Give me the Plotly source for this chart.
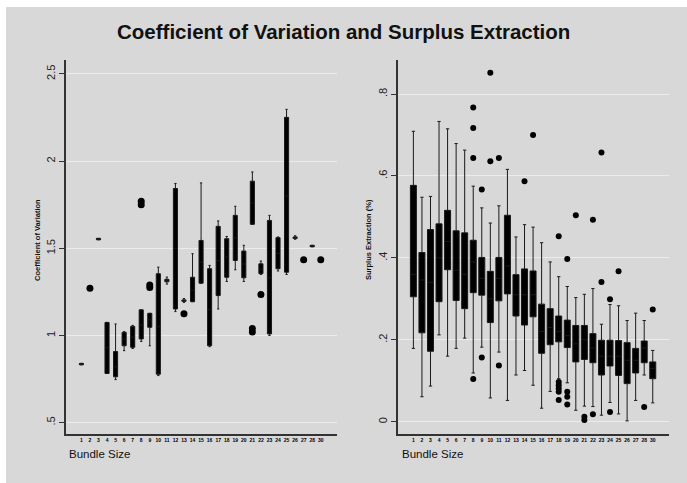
import plotly.graph_objects as go

# ---------------- data ----------------
bundle_labels = [str(k) for k in range(1, 29)] + ["30"]

# Left panel: Coefficient of Variation (None = no box, only points)
cv_low = [0.832, None, 1.549, 0.782, 0.747, 0.913, 0.925, 0.966, 0.941, 0.770,
          1.295, 1.137, 1.190, 1.194, 1.300, 0.936, 1.152, 1.310, 1.377, 1.310,
          1.638, 1.350, 1.000, 1.370, 1.350, 1.552, None, 1.509, None]
cv_q1 = [0.832, None, 1.549, 0.782, 0.763, 0.941, 0.932, 0.980, 1.047, 0.778,
         1.308, 1.152, 1.196, 1.194, 1.300, 0.941, 1.229, 1.334, 1.430, 1.331,
         1.638, 1.355, 1.009, 1.383, 1.363, 1.557, None, 1.509, None]
cv_med = [0.836, None, 1.553, 0.930, 0.820, 0.980, 0.990, 1.060, 1.090, 1.050,
          1.315, 1.500, 1.200, 1.260, 1.420, 1.150, 1.430, 1.450, 1.560, 1.410,
          1.760, 1.380, 1.330, 1.470, 1.800, 1.561, None, 1.513, None]
cv_q3 = [0.840, None, 1.557, 1.075, 0.908, 1.018, 1.052, 1.147, 1.127, 1.354,
         1.322, 1.843, 1.204, 1.334, 1.545, 1.383, 1.626, 1.555, 1.689, 1.484,
         1.885, 1.411, 1.660, 1.561, 2.251, 1.565, None, 1.517, None]
cv_high = [0.840, None, 1.557, 1.075, 1.066, 1.022, 1.058, 1.147, 1.127, 1.392,
           1.335, 1.872, 1.212, 1.469, 1.875, 1.402, 1.657, 1.568, 1.741, 1.517,
           1.938, 1.427, 1.689, 1.565, 2.297, 1.572, None, 1.517, None]
cv_out_group = [1, 7, 7, 8, 8, 12, 20, 20, 21, 26, 28]
cv_out_value = [1.271, 1.750, 1.770, 1.275, 1.290, 1.124, 1.020, 1.040, 1.235, 1.434, 1.434]

# Right panel: Surplus Extraction (%)
se_low = [0.179, 0.061, 0.087, 0.212, 0.160, 0.179, 0.204, 0.119, 0.182, 0.058,
          0.170, 0.052, 0.114, 0.125, 0.089, 0.033, 0.074, 0.105, 0.095, 0.028,
          0.038, 0.037, 0.016, 0.047, 0.019, 0.002, 0.052, 0.114, 0.046]
se_q1 = [0.305, 0.217, 0.172, 0.293, 0.371, 0.296, 0.276, 0.315, 0.309, 0.242,
         0.295, 0.312, 0.258, 0.236, 0.256, 0.167, 0.188, 0.195, 0.181, 0.146,
         0.152, 0.144, 0.114, 0.136, 0.113, 0.093, 0.119, 0.144, 0.105]
se_med = [0.360, 0.346, 0.340, 0.400, 0.440, 0.370, 0.360, 0.390, 0.350, 0.300,
          0.350, 0.380, 0.310, 0.310, 0.310, 0.220, 0.230, 0.220, 0.210, 0.190,
          0.200, 0.180, 0.160, 0.160, 0.160, 0.150, 0.150, 0.180, 0.130]
se_q3 = [0.577, 0.413, 0.469, 0.483, 0.516, 0.466, 0.461, 0.443, 0.401, 0.367,
         0.401, 0.504, 0.359, 0.373, 0.368, 0.287, 0.276, 0.258, 0.248, 0.235,
         0.235, 0.215, 0.199, 0.199, 0.198, 0.193, 0.179, 0.197, 0.146]
se_high = [0.709, 0.548, 0.550, 0.733, 0.715, 0.679, 0.663, 0.575, 0.522, 0.485,
           0.527, 0.616, 0.451, 0.481, 0.475, 0.437, 0.390, 0.354, 0.330, 0.303,
           0.311, 0.325, 0.238, 0.286, 0.283, 0.247, 0.265, 0.247, 0.174]
se_out_group = [7, 7, 7, 7, 8, 8, 9, 9, 10, 10, 13, 14,
                17, 17, 17, 17, 17, 17, 18, 18, 18, 18, 19, 20, 20,
                21, 21, 22, 22, 23, 23, 24, 27, 28]
se_out_value = [0.767, 0.717, 0.644, 0.104, 0.567, 0.157, 0.852, 0.636, 0.644, 0.137, 0.587, 0.700,
                0.453, 0.097, 0.089, 0.081, 0.073, 0.053, 0.397, 0.073, 0.061, 0.042, 0.504, 0.012, 0.004,
                0.493, 0.018, 0.657, 0.341, 0.299, 0.024, 0.367, 0.036, 0.274]

cv_ticks = [0.5, 1, 1.5, 2, 2.5]
cv_ticktext = [".5", "1", "1.5", "2", "2.5"]
se_ticks = [0, 0.2, 0.4, 0.6, 0.8]
se_ticktext = ["0", ".2", ".4", ".6", ".8"]

# ---------------- figure ----------------
W, H = 687, 483
BG = "#d8d8d8"
positions = list(range(len(bundle_labels)))

fig = go.Figure()


def add_boxes(xaxis, yaxis, low, q1, med, q3, high, width):
    idx = [i for i in positions if q1[i] is not None]
    fig.add_trace(go.Box(
        x=[positions[i] for i in idx],
        lowerfence=[low[i] for i in idx],
        q1=[q1[i] for i in idx],
        median=[med[i] for i in idx],
        q3=[q3[i] for i in idx],
        upperfence=[high[i] for i in idx],
        width=width, whiskerwidth=0.55,
        fillcolor="black", line=dict(color="#1a1a1a", width=1),
        boxpoints=False, showlegend=False, hoverinfo="skip",
        xaxis=xaxis, yaxis=yaxis,
    ))


def add_points(xaxis, yaxis, groups, values, size):
    fig.add_trace(go.Scatter(
        x=[positions[g] for g in groups], y=values, mode="markers",
        marker=dict(color="black", size=size, line=dict(width=0)),
        showlegend=False, hoverinfo="skip", xaxis=xaxis, yaxis=yaxis,
    ))


add_boxes("x", "y", cv_low, cv_q1, cv_med, cv_q3, cv_high, 0.48)
add_points("x", "y", cv_out_group, cv_out_value, 7)
add_boxes("x2", "y2", se_low, se_q1, se_med, se_q3, se_high, 0.7)
add_points("x2", "y2", se_out_group, se_out_value, 6)

top_px, bot_px = 60, 434
ydom = [(H - bot_px) / H, (H - top_px) / H]
left_dom = [66 / W, 337 / W]
right_dom = [398 / W, 669 / W]

xcommon = dict(range=[-1.8, 29.9], tickmode="array", tickvals=positions,
               ticktext=["<b>%s</b>" % t for t in bundle_labels],
               tickfont=dict(family="Liberation Sans", size=5, color="black"),
               ticks="", showgrid=False, zeroline=False, showline=True,
               linecolor="#333333", linewidth=1.5, fixedrange=True)
ycommon = dict(tickangle=-90, tickfont=dict(family="Liberation Sans", size=11, color="#222222"),
               ticks="outside", ticklen=5, tickcolor="#333333", showgrid=True,
               gridcolor="#ececec", gridwidth=1, zeroline=False, showline=True,
               linecolor="#333333", linewidth=1.5, fixedrange=True)

fig.update_layout(
    width=W, height=H,
    margin=dict(l=0, r=0, t=0, b=0),
    paper_bgcolor="white",
    plot_bgcolor="white",
    xaxis=dict(domain=left_dom, anchor="y", **xcommon),
    yaxis=dict(domain=ydom, anchor="x", range=[0.435, 2.58], tickvals=cv_ticks,
               ticktext=cv_ticktext, **ycommon),
    xaxis2=dict(domain=right_dom, anchor="y2", **xcommon),
    yaxis2=dict(domain=ydom, anchor="x2", range=[-0.03, 0.883], tickvals=se_ticks,
                ticktext=se_ticktext, **ycommon),
    shapes=[dict(type="rect", xref="paper", yref="paper", x0=6 / W, x1=1, y0=0,
                 y1=(H - 7) / H, fillcolor=BG, line=dict(width=0), layer="below")],
    annotations=[
        dict(text="<b>Coefficient of Variation and Surplus Extraction</b>", x=343 / W,
             y=(H - 32) / H, xref="paper", yref="paper", showarrow=False,
             xanchor="center", yanchor="middle",
             font=dict(family="Liberation Sans", size=20.5, color="#111111")),
        dict(text="<b>Coefficient of Variation</b>", x=37 / W, y=(H - 240) / H, xref="paper",
             yref="paper", showarrow=False, textangle=-90, xanchor="center",
             yanchor="middle", font=dict(family="Liberation Sans", size=7.5, color="#111111")),
        dict(text="<b>Surplus Extraction (%)</b>", x=368 / W, y=(H - 240) / H, xref="paper",
             yref="paper", showarrow=False, textangle=-90, xanchor="center",
             yanchor="middle", font=dict(family="Liberation Sans", size=7.5, color="#111111")),
        dict(text="Bundle Size", x=67 / W, y=(H - 454) / H, xref="paper", yref="paper",
             showarrow=False, xanchor="left", yanchor="middle",
             font=dict(family="Liberation Sans", size=11.5, color="#111111")),
        dict(text="Bundle Size", x=400 / W, y=(H - 454) / H, xref="paper", yref="paper",
             showarrow=False, xanchor="left", yanchor="middle",
             font=dict(family="Liberation Sans", size=11.5, color="#111111")),
    ],
)

fig.write_html("out.html")
